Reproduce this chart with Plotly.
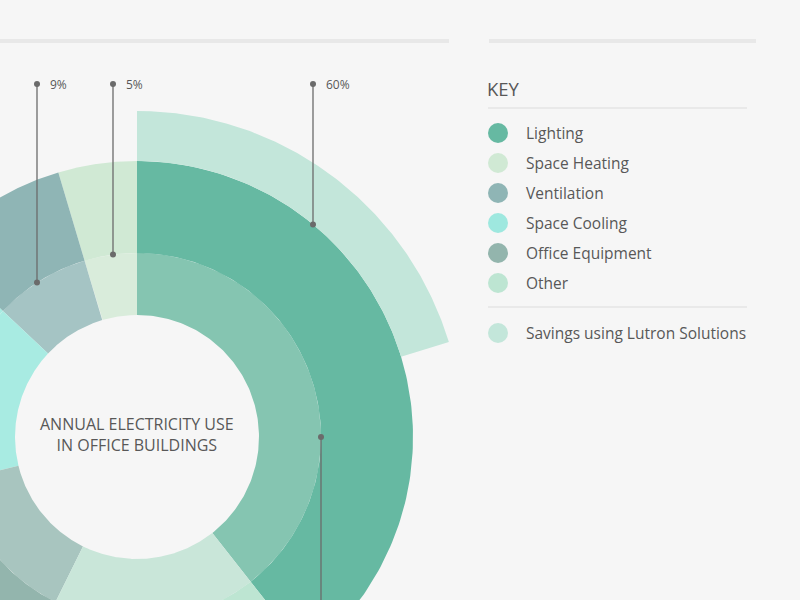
import numpy as np
import plotly.graph_objects as go

# Annual electricity use in office buildings (share of total, %)
categories = ["Lighting", "Space Heating", "Ventilation", "Space Cooling",
              "Office Equipment", "Other"]
shares = [39.4, 4.6, 8.4, 15.8, 13.9, 17.9]

# Savings with Lutron Solutions, drawn on top of lighting (share of full circle, %)
savings_label = "Savings using Lutron Solutions"
savings_share = 20.3

# Callout labels on the leader lines
callout_labels = ["9%", "5%", "60%"]

# ---- styles ----
BG = "#f6f6f6"
TEXT = "#585858"
LINE = "#6b6b6b"
FONT = "Open Sans"
outer_colors = ["#66b9a2", "#d0e9d4", "#8fb5b5", "#a8ebe2", "#93b5ad", "#bde5d2"]
inner_colors = ["#85c5b1", "#d9ecdb", "#a5c4c4", "#a8ebe2", "#a8c5bf", "#c9e6d9"]
savings_color = "#c3e6da"

# donut geometry in page pixels
CX, CY = 137, 437
R_HOLE, R_MID, R_OUT, R_SAVE = 122, 184, 276, 326
callout_x = [37, 113, 313]
callout_r = [R_MID, R_MID, R_OUT]
CALLOUT_TOP = 84


def wedge(a0, a1, r0, r1, n=150):
    t = np.radians(np.linspace(a0, a1, n))
    xs = np.concatenate([CX + r1 * np.cos(t), CX + r0 * np.cos(t[::-1])])
    ys = np.concatenate([CY - r1 * np.sin(t), CY - r0 * np.sin(t[::-1])])
    return np.append(xs, xs[0]), np.append(ys, ys[0])


fig = go.Figure()

# segments go counter-clockwise, lighting ends at 12 o'clock
start = 90 - 360 * shares[0] / 100
edges = start + 360 * np.concatenate([[0], np.cumsum(shares)]) / 100
for i, name in enumerate(categories):
    a0, a1 = edges[i], edges[i + 1]
    for r0, r1, col in [(R_HOLE, R_MID, inner_colors[i]), (R_MID, R_OUT, outer_colors[i])]:
        xs, ys = wedge(a0, a1, r0, r1)
        fig.add_trace(go.Scatter(x=xs, y=ys, mode="lines", fill="toself",
                                 fillcolor=col, line=dict(width=0, color=col),
                                 hoverinfo="skip", showlegend=False))

# savings arc, clockwise from 12 o'clock
xs, ys = wedge(90 - 360 * savings_share / 100, 90, R_OUT, R_SAVE)
fig.add_trace(go.Scatter(x=xs, y=ys, mode="lines", fill="toself",
                         fillcolor=savings_color, line=dict(width=0, color=savings_color),
                         hoverinfo="skip", showlegend=False))

# leader lines with dots
dots_x, dots_y = [], []
for lab, x, r in zip(callout_labels, callout_x, callout_r):
    y_end = CY - np.sqrt(r ** 2 - (x - CX) ** 2)
    fig.add_shape(type="line", x0=x, x1=x, y0=CALLOUT_TOP, y1=y_end,
                  line=dict(color=LINE, width=1.3))
    dots_x += [x, x]
    dots_y += [CALLOUT_TOP, y_end]
    fig.add_annotation(x=x + 11, y=CALLOUT_TOP, text=lab, showarrow=False,
                       xanchor="left", yanchor="middle",
                       font=dict(family=FONT, size=12, color=TEXT))
# lighting leader going down off the page
fig.add_shape(type="line", x0=CX + R_MID, x1=CX + R_MID, y0=CY, y1=620,
              line=dict(color=LINE, width=1.3))
dots_x.append(CX + R_MID)
dots_y.append(CY)
fig.add_trace(go.Scatter(x=dots_x, y=dots_y, mode="markers",
                         marker=dict(size=6, color=LINE), hoverinfo="skip",
                         showlegend=False))

# centre title
fig.add_annotation(x=CX, y=CY - 3, text="ANNUAL ELECTRICITY USE<br>IN OFFICE BUILDINGS",
                   showarrow=False, xanchor="center", yanchor="middle",
                   font=dict(family=FONT, size=16, color=TEXT))

# top rules
fig.add_shape(type="rect", x0=0, x1=449, y0=39, y1=43, fillcolor="#e8e8e8", line_width=0)
fig.add_shape(type="rect", x0=489, x1=756, y0=39, y1=43, fillcolor="#e8e8e8", line_width=0)

# key
fig.add_annotation(x=485, y=88, text="KEY", showarrow=False, xanchor="left",
                   yanchor="middle", font=dict(family=FONT, size=18.5, color=TEXT))
fig.add_shape(type="line", x0=488, x1=747, y0=108, y1=108, line=dict(color="#dcdcdc", width=1))
fig.add_shape(type="line", x0=488, x1=747, y0=307, y1=307, line=dict(color="#dcdcdc", width=1))

key_names = categories + [savings_label]
key_colors = outer_colors[:3] + ["#9ee8df"] + outer_colors[4:] + [savings_color]
key_y = [133 + 30 * i for i in range(len(categories))] + [333]
fig.add_trace(go.Scatter(x=[498] * len(key_names), y=key_y, mode="markers",
                         marker=dict(size=20, color=key_colors), hoverinfo="skip",
                         showlegend=False))
for name, y in zip(key_names, key_y):
    fig.add_annotation(x=524, y=y, text=name, showarrow=False, xanchor="left",
                       yanchor="middle", font=dict(family=FONT, size=15.5, color=TEXT))

fig.update_layout(
    width=800, height=600,
    margin=dict(l=0, r=0, t=0, b=0),
    paper_bgcolor=BG, plot_bgcolor=BG,
    xaxis=dict(range=[0, 800], visible=False, fixedrange=True),
    yaxis=dict(range=[600, 0], visible=False, fixedrange=True),
)

# drop the default page margin so the chart fills the window exactly
fig.write_html("out.html", config={"displayModeBar": False},
               post_script="document.body.style.margin='0';")
